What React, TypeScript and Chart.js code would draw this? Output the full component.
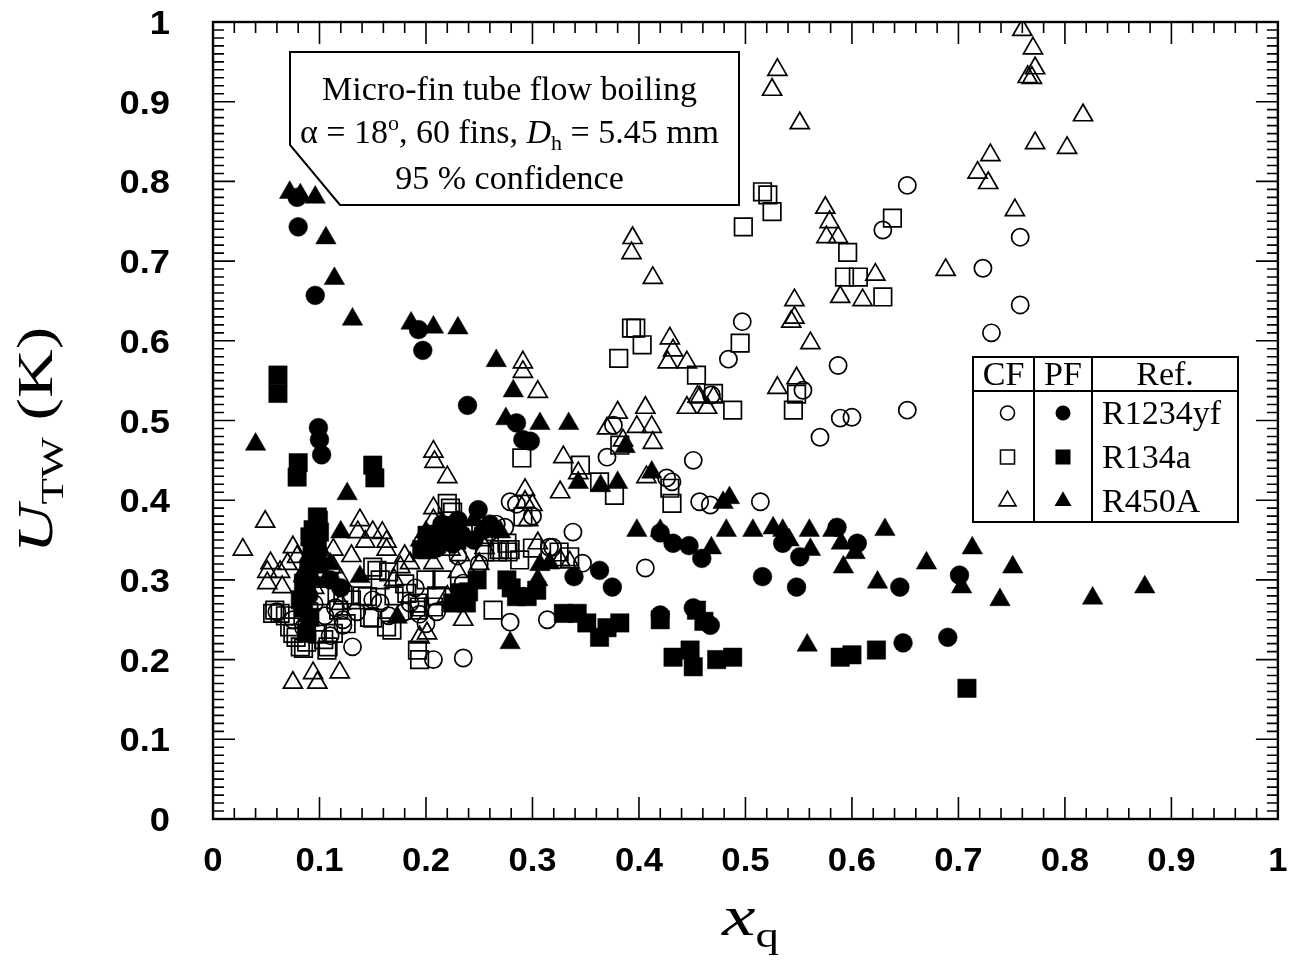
import React, { useEffect, useRef } from "react";
import { Chart, registerables } from "chart.js";

Chart.register(...registerables);

// Convective flow boiling (CF), open symbols
const cfR1234yf: [number, number][] = [
  [0.652, 0.795], [0.629, 0.739], [0.758, 0.73], [0.723, 0.691], [0.758, 0.645], [0.731, 0.61],
  [0.497, 0.624], [0.484, 0.577], [0.587, 0.569], [0.652, 0.513], [0.57, 0.479], [0.589, 0.503],
  [0.6, 0.504], [0.554, 0.538], [0.468, 0.532], [0.376, 0.494], [0.37, 0.454], [0.451, 0.45],
  [0.426, 0.428], [0.431, 0.423], [0.457, 0.398], [0.467, 0.394], [0.514, 0.398], [0.279, 0.398],
  [0.274, 0.366], [0.338, 0.36], [0.316, 0.341], [0.319, 0.341], [0.406, 0.315], [0.314, 0.25],
  [0.279, 0.247], [0.347, 0.321], [0.131, 0.216], [0.122, 0.243], [0.207, 0.2], [0.235, 0.202],
  [0.15, 0.275], [0.185, 0.271], [0.235, 0.296], [0.122, 0.25], [0.157, 0.271], [0.194, 0.257],
  [0.105, 0.255], [0.095, 0.27], [0.11, 0.23], [0.2, 0.245], [0.19, 0.29], [0.06, 0.26],
  [0.085, 0.24], [0.266, 0.37], [0.285, 0.395], [0.23, 0.33], [0.26, 0.36], [0.075, 0.25],
  [0.115, 0.265], [0.135, 0.26], [0.165, 0.255], [0.18, 0.26], [0.21, 0.26], [0.25, 0.32],
  [0.3, 0.38],
];

const cfR134a: [number, number][] = [
  [0.516, 0.787], [0.521, 0.783], [0.525, 0.762], [0.498, 0.743], [0.638, 0.754], [0.596, 0.711],
  [0.593, 0.68], [0.606, 0.68], [0.629, 0.655], [0.495, 0.597], [0.393, 0.616], [0.397, 0.616],
  [0.403, 0.595], [0.381, 0.578], [0.454, 0.557], [0.47, 0.534], [0.488, 0.513], [0.545, 0.513],
  [0.548, 0.533], [0.382, 0.469], [0.345, 0.444], [0.363, 0.423], [0.377, 0.406], [0.431, 0.396],
  [0.429, 0.415], [0.29, 0.453], [0.291, 0.379], [0.276, 0.346], [0.056, 0.258], [0.063, 0.258],
  [0.075, 0.233], [0.082, 0.216], [0.085, 0.214], [0.108, 0.216], [0.113, 0.233], [0.122, 0.281],
  [0.15, 0.316], [0.157, 0.3], [0.145, 0.279], [0.15, 0.252], [0.163, 0.241], [0.168, 0.237],
  [0.192, 0.262], [0.207, 0.266], [0.192, 0.212], [0.194, 0.2], [0.22, 0.396], [0.269, 0.338],
  [0.279, 0.338], [0.263, 0.262], [0.254, 0.354], [0.288, 0.325], [0.154, 0.312], [0.147, 0.253],
  [0.192, 0.271], [0.072, 0.241], [0.107, 0.212], [0.223, 0.39], [0.267, 0.335], [0.277, 0.335],
  [0.182, 0.283], [0.194, 0.266], [0.335, 0.329], [0.1, 0.28], [0.09, 0.26], [0.125, 0.245],
  [0.2, 0.3], [0.17, 0.28], [0.3, 0.34], [0.325, 0.335], [0.058, 0.262], [0.068, 0.255],
  [0.078, 0.228], [0.088, 0.222], [0.098, 0.232], [0.104, 0.225], [0.118, 0.262], [0.13, 0.275],
  [0.14, 0.28], [0.165, 0.31], [0.18, 0.295], [0.21, 0.28], [0.215, 0.3], [0.225, 0.385],
  [0.255, 0.335], [0.235, 0.36],
];

const cfR450A: [number, number][] = [
  [0.53, 0.94], [0.525, 0.915], [0.551, 0.873], [0.76, 0.99], [0.77, 0.967], [0.772, 0.942],
  [0.765, 0.931], [0.769, 0.93], [0.817, 0.883], [0.772, 0.848], [0.802, 0.842], [0.73, 0.833],
  [0.718, 0.811], [0.728, 0.798], [0.753, 0.764], [0.575, 0.767], [0.579, 0.749], [0.576, 0.73],
  [0.587, 0.73], [0.622, 0.683], [0.589, 0.655], [0.61, 0.651], [0.688, 0.689], [0.546, 0.651],
  [0.543, 0.624], [0.546, 0.629], [0.561, 0.597], [0.394, 0.729], [0.393, 0.71], [0.413, 0.679],
  [0.291, 0.573], [0.291, 0.561], [0.305, 0.536], [0.429, 0.603], [0.432, 0.588], [0.427, 0.573],
  [0.445, 0.573], [0.457, 0.529], [0.445, 0.516], [0.464, 0.516], [0.47, 0.529], [0.53, 0.541],
  [0.548, 0.553], [0.406, 0.516], [0.398, 0.492], [0.412, 0.492], [0.413, 0.472], [0.329, 0.454],
  [0.343, 0.434], [0.326, 0.41], [0.407, 0.429], [0.293, 0.413], [0.293, 0.398], [0.3, 0.394],
  [0.296, 0.375], [0.305, 0.346], [0.207, 0.461], [0.208, 0.448], [0.22, 0.429], [0.207, 0.39],
  [0.207, 0.375], [0.138, 0.375], [0.136, 0.36], [0.143, 0.348], [0.159, 0.359], [0.163, 0.348],
  [0.163, 0.338], [0.049, 0.373], [0.028, 0.338], [0.223, 0.338], [0.232, 0.331], [0.075, 0.341],
  [0.079, 0.329], [0.054, 0.321], [0.051, 0.31], [0.051, 0.296], [0.063, 0.31], [0.065, 0.291],
  [0.113, 0.338], [0.113, 0.316], [0.107, 0.3], [0.088, 0.316], [0.176, 0.316], [0.185, 0.321],
  [0.207, 0.321], [0.201, 0.233], [0.194, 0.228], [0.075, 0.171], [0.094, 0.183], [0.098, 0.171],
  [0.119, 0.184], [0.235, 0.25], [0.22, 0.279], [0.326, 0.325], [0.335, 0.322], [0.37, 0.49],
  [0.38, 0.51], [0.385, 0.475], [0.455, 0.53], [0.12, 0.3], [0.095, 0.29], [0.17, 0.3],
  [0.25, 0.32], [0.24, 0.35], [0.07, 0.32], [0.085, 0.305], [0.1, 0.31], [0.13, 0.33],
  [0.15, 0.36], [0.18, 0.33], [0.195, 0.35], [0.215, 0.37], [0.255, 0.34], [0.23, 0.31],
  [0.12, 0.27], [0.09, 0.255],
];

// Pool flow boiling (PF), filled symbols
const pfR1234yf: [number, number][] = [
  [0.079, 0.78], [0.08, 0.743], [0.096, 0.657], [0.193, 0.614], [0.197, 0.588], [0.239, 0.519],
  [0.099, 0.491], [0.1, 0.476], [0.102, 0.457], [0.285, 0.497], [0.291, 0.476], [0.298, 0.474],
  [0.249, 0.388], [0.255, 0.363], [0.339, 0.304], [0.363, 0.312], [0.375, 0.291], [0.42, 0.359],
  [0.432, 0.346], [0.447, 0.343], [0.459, 0.327], [0.516, 0.304], [0.535, 0.346], [0.548, 0.291],
  [0.586, 0.366], [0.605, 0.346], [0.551, 0.329], [0.645, 0.291], [0.648, 0.221], [0.69, 0.228],
  [0.701, 0.306], [0.42, 0.256], [0.451, 0.265], [0.467, 0.243], [0.085, 0.3], [0.22, 0.36],
  [0.21, 0.34], [0.245, 0.35], [0.23, 0.375], [0.12, 0.29], [0.1, 0.32], [0.09, 0.28],
  [0.11, 0.3], [0.215, 0.37], [0.225, 0.345], [0.26, 0.37],
];

const pfR134a: [number, number][] = [
  [0.061, 0.557], [0.061, 0.534], [0.08, 0.447], [0.079, 0.429], [0.15, 0.444], [0.152, 0.428],
  [0.099, 0.375], [0.094, 0.363], [0.091, 0.354], [0.098, 0.338], [0.201, 0.338], [0.207, 0.354],
  [0.22, 0.359], [0.229, 0.35], [0.248, 0.3], [0.232, 0.284], [0.238, 0.271], [0.225, 0.271],
  [0.276, 0.3], [0.285, 0.279], [0.085, 0.296], [0.082, 0.275], [0.091, 0.253], [0.088, 0.233],
  [0.098, 0.379], [0.093, 0.341], [0.088, 0.3], [0.201, 0.356], [0.196, 0.338], [0.295, 0.279],
  [0.304, 0.287], [0.329, 0.258], [0.342, 0.258], [0.351, 0.246], [0.363, 0.228], [0.37, 0.24],
  [0.382, 0.246], [0.42, 0.25], [0.454, 0.262], [0.461, 0.248], [0.432, 0.203], [0.451, 0.191],
  [0.473, 0.2], [0.488, 0.203], [0.448, 0.212], [0.589, 0.203], [0.6, 0.206], [0.623, 0.212],
  [0.708, 0.164], [0.095, 0.32], [0.09, 0.31], [0.1, 0.36], [0.085, 0.265], [0.21, 0.345],
  [0.24, 0.285], [0.28, 0.29],
];

const pfR450A: [number, number][] = [
  [0.072, 0.786], [0.082, 0.783], [0.096, 0.78], [0.106, 0.729], [0.114, 0.678], [0.131, 0.627],
  [0.186, 0.622], [0.207, 0.617], [0.23, 0.616], [0.04, 0.47], [0.126, 0.408], [0.266, 0.575],
  [0.275, 0.502], [0.282, 0.537], [0.307, 0.496], [0.334, 0.496], [0.387, 0.467], [0.412, 0.435],
  [0.343, 0.422], [0.38, 0.422], [0.364, 0.418], [0.485, 0.403], [0.479, 0.397], [0.398, 0.362],
  [0.42, 0.362], [0.482, 0.362], [0.507, 0.362], [0.526, 0.365], [0.56, 0.362], [0.582, 0.362],
  [0.59, 0.346], [0.561, 0.338], [0.592, 0.316], [0.603, 0.334], [0.631, 0.363], [0.624, 0.297],
  [0.67, 0.321], [0.713, 0.34], [0.703, 0.291], [0.751, 0.316], [0.739, 0.275], [0.826, 0.277],
  [0.875, 0.291], [0.558, 0.218], [0.279, 0.221], [0.307, 0.319], [0.316, 0.321], [0.305, 0.3],
  [0.138, 0.304], [0.173, 0.253], [0.09, 0.33], [0.1, 0.34], [0.12, 0.36], [0.215, 0.35],
  [0.225, 0.365], [0.245, 0.375], [0.535, 0.362], [0.541, 0.35], [0.468, 0.34], [0.095, 0.3],
  [0.11, 0.32], [0.2, 0.36], [0.235, 0.36], [0.27, 0.36],
];

const xTickLabels = ["0", "0.1", "0.2", "0.3", "0.4", "0.5", "0.6", "0.7", "0.8", "0.9", "1"];
const yTickLabels = ["0", "0.1", "0.2", "0.3", "0.4", "0.5", "0.6", "0.7", "0.8", "0.9", "1"];
const refNames = ["R1234yf", "R134a", "R450A"];

const SERIF = '"Liberation Serif", "Times New Roman", serif';
const SANS = '"Liberation Sans", Arial, sans-serif';

type Seg = { t: string; font: string; dy?: number };

function segWidth(ctx: CanvasRenderingContext2D, segs: Seg[]) {
  let w = 0;
  for (const s of segs) {
    ctx.font = s.font;
    w += ctx.measureText(s.t).width;
  }
  return w;
}

function drawRich(
  ctx: CanvasRenderingContext2D,
  segs: Seg[],
  x: number,
  y: number,
  align: "left" | "center" | "right",
  sx = 1
) {
  const w = segWidth(ctx, segs) * sx;
  const start = align === "center" ? x - w / 2 : align === "right" ? x - w : x;
  ctx.save();
  ctx.translate(start, y);
  ctx.scale(sx, 1);
  ctx.textAlign = "left";
  ctx.textBaseline = "alphabetic";
  ctx.fillStyle = "#000";
  let cx = 0;
  for (const s of segs) {
    ctx.font = s.font;
    ctx.fillText(s.t, cx, s.dy || 0);
    cx += ctx.measureText(s.t).width;
  }
  ctx.restore();
}

function marker(
  ctx: CanvasRenderingContext2D,
  shape: "circle" | "rect" | "triangle",
  x: number,
  y: number,
  size: number,
  filled: boolean
) {
  ctx.beginPath();
  if (shape === "circle") {
    ctx.arc(x, y, size / 2, 0, Math.PI * 2);
  } else if (shape === "rect") {
    ctx.rect(x - size / 2, y - size / 2, size, size);
  } else {
    const h = (size * Math.sqrt(3)) / 2;
    ctx.moveTo(x, y - (2 * h) / 3);
    ctx.lineTo(x + size / 2, y + h / 3);
    ctx.lineTo(x - size / 2, y + h / 3);
    ctx.closePath();
  }
  if (filled) {
    ctx.fillStyle = "#000";
    ctx.fill();
  } else {
    ctx.lineWidth = 1.6;
    ctx.strokeStyle = "#000";
    ctx.stroke();
  }
}

// Frame, inward tick marks, tick labels and axis titles
const framePlugin = {
  id: "frame",
  beforeDatasetsDraw(chart: any) {
    const { ctx, chartArea: a, scales } = chart;
    const xs = scales.x;
    const ys = scales.y;
    ctx.save();
    ctx.strokeStyle = "#000";
    ctx.lineWidth = 1.6;
    ctx.beginPath();
    for (let i = 0; i <= 50; i++) {
      const px = xs.getPixelForValue(i * 0.02);
      const len = i % 5 === 0 ? 22 : 11;
      ctx.moveTo(px, a.bottom);
      ctx.lineTo(px, a.bottom - len);
      ctx.moveTo(px, a.top);
      ctx.lineTo(px, a.top + len);
    }
    for (let i = 0; i <= 100; i++) {
      const py = ys.getPixelForValue(i * 0.01);
      const len = i % 10 === 0 ? 22 : 11;
      ctx.moveTo(a.left, py);
      ctx.lineTo(a.left + len, py);
      ctx.moveTo(a.right, py);
      ctx.lineTo(a.right - len, py);
    }
    ctx.stroke();
    ctx.lineWidth = 2.4;
    ctx.strokeRect(a.left, a.top, a.right - a.left, a.bottom - a.top);

    // tick labels
    const tickFont = `bold 33px ${SANS}`;
    xTickLabels.forEach((lab, i) => {
      const px = xs.getPixelForValue(i * 0.1);
      drawRich(ctx, [{ t: lab, font: tickFont }], px, a.bottom + 52, "center", 1.05);
    });
    yTickLabels.forEach((lab, i) => {
      const py = ys.getPixelForValue(i * 0.1);
      drawRich(ctx, [{ t: lab, font: tickFont }], a.left - 43, py + 12, "right", 1.1);
    });

    // x axis title
    drawRich(
      ctx,
      [
        { t: "x", font: `italic 58px ${SERIF}` },
        { t: "q", font: `36px ${SERIF}`, dy: 12 },
      ],
      (a.left + a.right) / 2 + 5,
      a.bottom + 116,
      "center",
      1.3
    );

    // y axis title
    ctx.save();
    ctx.translate(52, 440);
    ctx.rotate(-Math.PI / 2);
    drawRich(
      ctx,
      [
        { t: "U", font: `italic 50px ${SERIF}` },
        { t: "TW", font: `32px ${SERIF}`, dy: 11 },
        { t: " (K)", font: `50px ${SERIF}` },
      ],
      0,
      0,
      "center",
      1.35
    );
    ctx.restore();
    ctx.restore();
  },
  afterDatasetsDraw(chart: any) {
    const { ctx, chartArea: a } = chart;
    ctx.save();
    ctx.strokeStyle = "#000";
    ctx.lineWidth = 2;

    // annotation box with cut corner
    const bl = a.left + 77;
    const br = a.left + 526;
    const bt = a.top + 30;
    const bb = a.top + 183;
    ctx.beginPath();
    ctx.moveTo(bl, bt);
    ctx.lineTo(br, bt);
    ctx.lineTo(br, bb);
    ctx.lineTo(bl + 50, bb);
    ctx.lineTo(bl, bb - 60);
    ctx.closePath();
    ctx.fillStyle = "#fff";
    ctx.fill();
    ctx.stroke();
    const tcx = (bl + br) / 2 - 5;
    const f = `34px ${SERIF}`;
    const fs = `22px ${SERIF}`;
    drawRich(ctx, [{ t: "Micro-fin tube flow boiling", font: f }], tcx, a.top + 78, "center");
    drawRich(
      ctx,
      [
        { t: "\u03b1 = 18", font: f },
        { t: "o", font: fs, dy: -13 },
        { t: ", 60 fins, ", font: f },
        { t: "D", font: `italic 34px ${SERIF}` },
        { t: "h", font: fs, dy: 7 },
        { t: " = 5.45 mm", font: f },
      ],
      tcx,
      a.top + 121,
      "center"
    );
    drawRich(ctx, [{ t: "95 % confidence", font: f }], tcx, a.top + 167, "center");

    // legend table
    const lx = a.left + 760;
    const lr = a.left + 1025;
    const lt = a.top + 335;
    const lb = a.top + 500;
    const d1 = a.left + 821;
    const d2 = a.left + 879;
    const hy = lt + 34;
    ctx.fillStyle = "#fff";
    ctx.fillRect(lx, lt, lr - lx, lb - lt);
    ctx.beginPath();
    ctx.rect(lx, lt, lr - lx, lb - lt);
    ctx.moveTo(lx, hy);
    ctx.lineTo(lr, hy);
    ctx.moveTo(d1, lt);
    ctx.lineTo(d1, lb);
    ctx.moveTo(d2, lt);
    ctx.lineTo(d2, lb);
    ctx.stroke();
    drawRich(ctx, [{ t: "CF", font: f }], (lx + d1) / 2, lt + 28, "center");
    drawRich(ctx, [{ t: "PF", font: f }], (d1 + d2) / 2, lt + 28, "center");
    drawRich(ctx, [{ t: "Ref.", font: f }], (d2 + lr) / 2, lt + 28, "center");
    const shapes: ("circle" | "rect" | "triangle")[] = ["circle", "rect", "triangle"];
    refNames.forEach((name, i) => {
      const cy = lt + 56 + i * 44;
      marker(ctx, shapes[i], (lx + d1) / 2 + 4, cy, i === 2 ? 17 : 14, false);
      marker(ctx, shapes[i], (d1 + d2) / 2, cy, i === 2 ? 17 : 15, true);
      drawRich(ctx, [{ t: name, font: f }], d2 + 10, cy + 11, "left");
    });
    ctx.restore();
  },
};

function toPoints(arr: [number, number][]) {
  return arr.map(([x, y]) => ({ x, y }));
}

export default function App() {
  const canvasRef = useRef<HTMLCanvasElement | null>(null);

  useEffect(() => {
    const canvas = canvasRef.current;
    if (!canvas) return;
    const open = { backgroundColor: "rgba(0,0,0,0)", borderColor: "#000", borderWidth: 1.7 };
    const solid = { backgroundColor: "#000", borderColor: "#000", borderWidth: 0.5 };
    const chart = new Chart(canvas, {
      type: "scatter",
      data: {
        datasets: [
          { label: "CF R1234yf", data: toPoints(cfR1234yf), pointStyle: "circle", pointRadius: 8.6, ...open },
          { label: "CF R134a", data: toPoints(cfR134a), pointStyle: "rect", pointRadius: 12.4, ...open },
          { label: "CF R450A", data: toPoints(cfR450A), pointStyle: "triangle", pointRadius: 11, ...open },
          { label: "PF R1234yf", data: toPoints(pfR1234yf), pointStyle: "circle", pointRadius: 9.4, ...solid },
          { label: "PF R134a", data: toPoints(pfR134a), pointStyle: "rect", pointRadius: 13, ...solid },
          { label: "PF R450A", data: toPoints(pfR450A), pointStyle: "triangle", pointRadius: 11.8, ...solid },
        ],
      },
      options: {
        responsive: false,
        animation: false,
        layout: { padding: { left: 213, top: 22, right: 14, bottom: 143 } },
        scales: {
          x: { type: "linear", min: 0, max: 1, display: false },
          y: { type: "linear", min: 0, max: 1, display: false },
        },
        plugins: {
          legend: { display: false },
          tooltip: { enabled: false },
        },
        elements: { point: { hoverRadius: 0 } },
      },
      plugins: [framePlugin],
    });
    return () => chart.destroy();
  }, []);

  return (
    <div style={{ position: "fixed", left: 0, top: 0, width: 1292, height: 962, background: "#fff" }}>
      <canvas ref={canvasRef} width={1292} height={962} style={{ display: "block" }} />
    </div>
  );
}
